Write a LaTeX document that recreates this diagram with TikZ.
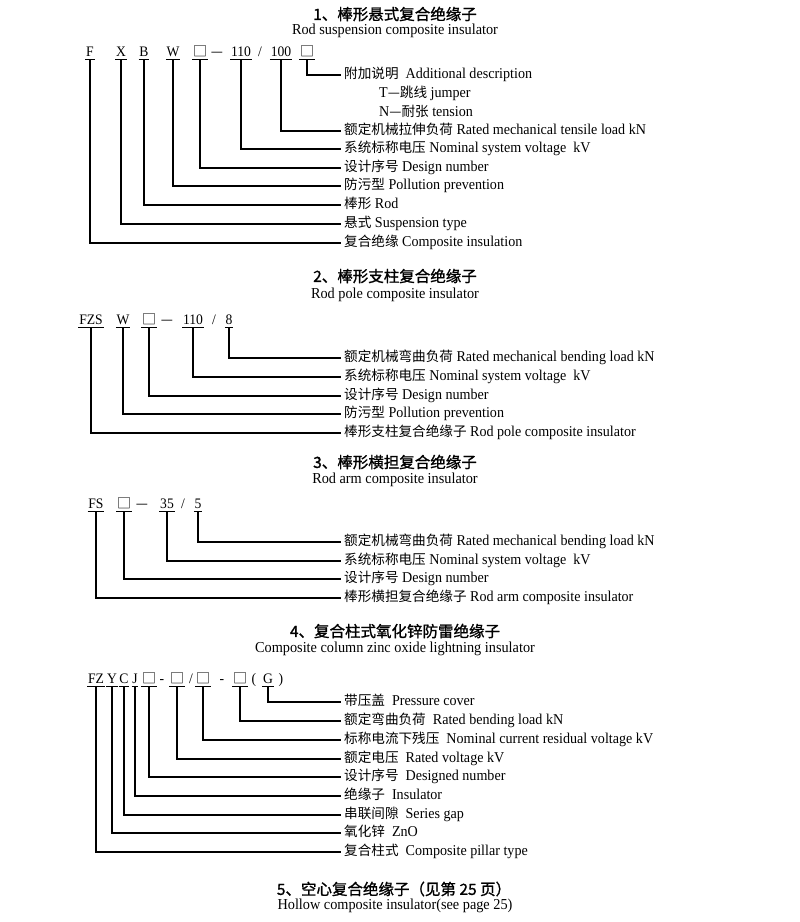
\documentclass[tikz,border=0pt]{standalone}
\usepackage{fontspec}
\setmainfont{Liberation Serif}[FakeStretch=0.94]
\newfontfamily\cjk{Noto Sans CJK SC}
\newfontfamily\cjkbf{Noto Sans CJK SC}[FakeBold=1.2]
\newcommand\zh[1]{{\cjk\fontsize{13.6}{15}\selectfont #1}}
\newcommand\sq{{\cjk\fontsize{14}{16}\selectfont □}}

\begin{document}
\begin{tikzpicture}[x=1pt,y=-1pt,
        ttl/.style={font=\cjkbf\fontsize{15.5}{18}\selectfont,inner sep=0pt},
        sub/.style={font=\fontsize{15.2}{18}\selectfont,inner sep=0pt},
        tok/.style={font=\fontsize{14.5}{16}\selectfont,text height=10pt,text depth=2pt,
                    inner xsep=0.6pt,inner ysep=1pt},
        lbl/.style={anchor=west,font=\fontsize{15}{17}\selectfont,text height=10pt,
                    text depth=3pt,inner xsep=3pt,inner ysep=0pt},
        ln/.style={line width=1.2pt},
        ul/.style={line width=1pt}]

    \useasboundingbox (0,0) rectangle (800,922);

    % 1. rod suspension
    \node[ttl] (t1) at (395,14) {1、棒形悬式复合绝缘子};
    \node[sub] (u1) at (395,31) {Rod suspension composite insulator};

    \node[tok] (s1f) at (90,52)  {F};
    \node[tok] (s1x) at (121,52) {X};
    \node[tok] (s1b) at (144,52) {B};
    \node[tok] (s1w) at (173,52) {W};
    \node[tok] (s1d) at (200,52) {\sq};
    \node[tok] (s1m) at (217,52) {\zh{—}};
    \node[tok] (s1v) at (241,52) {110};
    \node[tok] (s1s) at (260,52) {/};
    \node[tok] (s1k) at (281,52) {100};
    \node[tok] (s1e) at (307,52) {\sq};

    \node[lbl] (l1e) at (341,75)  {\zh{附加说明}\ \ Additional description};
    \node[lbl] (l1t) at (376,94)  {T\zh{—跳线} jumper};
    \node[lbl] (l1n) at (376,113) {N\zh{—耐张} tension};
    \node[lbl] (l1k) at (341,131) {\zh{额定机械拉伸负荷} Rated mechanical tensile load kN};
    \node[lbl] (l1v) at (341,149) {\zh{系统标称电压} Nominal system voltage\ \ kV};
    \node[lbl] (l1d) at (341,168) {\zh{设计序号} Design number};
    \node[lbl] (l1w) at (341,186) {\zh{防污型} Pollution prevention};
    \node[lbl] (l1b) at (341,205) {\zh{棒形} Rod};
    \node[lbl] (l1x) at (341,224) {\zh{悬式} Suspension type};
    \node[lbl] (l1f) at (341,243) {\zh{复合绝缘} Composite insulation};

    \foreach \n in {s1f,s1x,s1b,s1w,s1d,s1v,s1k,s1e}
        \draw[ul] (\n.south west) -- (\n.south east);
    \foreach \n in {f,x,b,w,d,v,k,e}
        \draw[ln] (s1\n.south) |- (l1\n.west);

    % 2. rod pole
    \node[ttl] (t2) at (395,276) {2、棒形支柱复合绝缘子};
    \node[sub] (u2) at (395,295) {Rod pole composite insulator};

    \node[tok] (s2f) at (91,320)  {FZS};
    \node[tok] (s2w) at (123,320) {W};
    \node[tok] (s2d) at (149,320) {\sq};
    \node[tok] (s2m) at (167,320) {\zh{—}};
    \node[tok] (s2v) at (193,320) {110};
    \node[tok] (s2s) at (214,320) {/};
    \node[tok] (s2k) at (229,320) {8};

    \node[lbl] (l2k) at (341,358) {\zh{额定机械弯曲负荷} Rated mechanical bending load kN};
    \node[lbl] (l2v) at (341,377) {\zh{系统标称电压} Nominal system voltage\ \ kV};
    \node[lbl] (l2d) at (341,396) {\zh{设计序号} Design number};
    \node[lbl] (l2w) at (341,414) {\zh{防污型} Pollution prevention};
    \node[lbl] (l2f) at (341,433) {\zh{棒形支柱复合绝缘子} Rod pole composite insulator};

    \foreach \n in {f,w,d,v,k}{
        \draw[ul] (s2\n.south west) -- (s2\n.south east);
        \draw[ln] (s2\n.south) |- (l2\n.west);
    }

    % 3. rod arm
    \node[ttl] (t3) at (395,462) {3、棒形横担复合绝缘子};
    \node[sub] (u3) at (395,480) {Rod arm composite insulator};

    \node[tok] (s3f) at (96,504)  {FS};
    \node[tok] (s3d) at (124,504) {\sq};
    \node[tok] (s3m) at (142,504) {\zh{—}};
    \node[tok] (s3v) at (167,504) {35};
    \node[tok] (s3s) at (183,504) {/};
    \node[tok] (s3k) at (198,504) {5};

    \node[lbl] (l3k) at (341,542) {\zh{额定机械弯曲负荷} Rated mechanical bending load kN};
    \node[lbl] (l3v) at (341,561) {\zh{系统标称电压} Nominal system voltage\ \ kV};
    \node[lbl] (l3d) at (341,579) {\zh{设计序号} Design number};
    \node[lbl] (l3f) at (341,598) {\zh{棒形横担复合绝缘子} Rod arm composite insulator};

    \foreach \n in {f,d,v,k}{
        \draw[ul] (s3\n.south west) -- (s3\n.south east);
        \draw[ln] (s3\n.south) |- (l3\n.west);
    }

    % 4. zinc oxide lightning
    \node[ttl] (t4) at (395,631) {4、复合柱式氧化锌防雷绝缘子};
    \node[sub] (u4) at (395,649) {Composite column zinc oxide lightning insulator};

    \node[tok] (s4a) at (96,679)  {FZ};
    \node[tok] (s4b) at (112,679) {Y};
    \node[tok] (s4c) at (124,679) {C};
    \node[tok] (s4d) at (135,679) {J};
    \node[tok] (s4e) at (149,679) {\sq};
    \node[tok] (s4m) at (162,679) {-};
    \node[tok] (s4f) at (177,679) {\sq};
    \node[tok] (s4s) at (191,679) {/};
    \node[tok] (s4g) at (203,679) {\sq};
    \node[tok] (s4n) at (222,679) {-};
    \node[tok] (s4h) at (240,679) {\sq};
    \node[tok] (s4o) at (254,679) {(};
    \node[tok] (s4i) at (268,679) {G};
    \node[tok] (s4p) at (281,679) {)};

    \node[lbl] (l4i) at (341,702) {\zh{带压盖}\ \ Pressure cover};
    \node[lbl] (l4h) at (341,721) {\zh{额定弯曲负荷}\ \ Rated bending load kN};
    \node[lbl] (l4g) at (341,740) {\zh{标称电流下残压}\ \ Nominal current residual voltage kV};
    \node[lbl] (l4f) at (341,759) {\zh{额定电压}\ \ Rated voltage kV};
    \node[lbl] (l4e) at (341,777) {\zh{设计序号}\ \ Designed number};
    \node[lbl] (l4d) at (341,796) {\zh{绝缘子}\ \ Insulator};
    \node[lbl] (l4c) at (341,815) {\zh{串联间隙}\ \ Series gap};
    \node[lbl] (l4b) at (341,833) {\zh{氧化锌}\ \ ZnO};
    \node[lbl] (l4a) at (341,852) {\zh{复合柱式}\ \ Composite pillar type};

    \foreach \n in {a,b,c,d,e,f,g,h,i}{
        \draw[ul] (s4\n.south west) -- (s4\n.south east);
        \draw[ln] (s4\n.south) |- (l4\n.west);
    }

    % 5. hollow
    \node[ttl] (t5) at (394,889) {5、空心复合绝缘子（见第 25 页）};
    \node[sub] (u5) at (395,906) {Hollow composite insulator(see page 25)};

\end{tikzpicture}
\end{document}
